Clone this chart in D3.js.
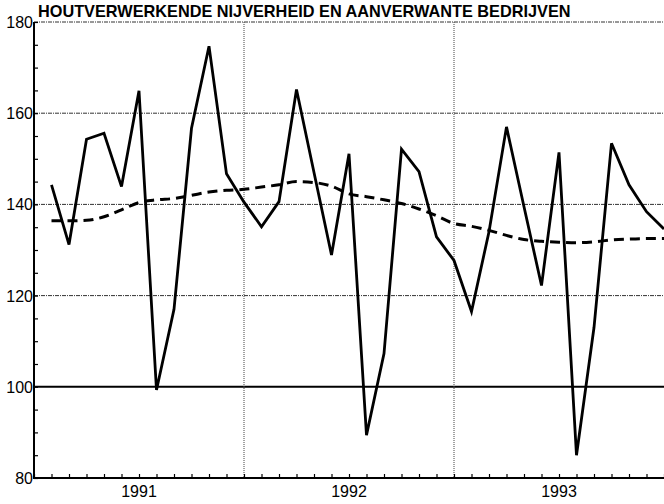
<!DOCTYPE html>
<html>
<head>
<meta charset="utf-8">
<script src="https://cdn.jsdelivr.net/npm/d3@7"></script>
<style>
  html, body { margin: 0; padding: 0; background: #fff; }
  svg { display: block; }
</style>
</head>
<body>
<svg id="chart" width="664" height="504"></svg>
<script>
// ---- data ----
const title = "HOUTVERWERKENDE NIJVERHEID EN AANVERWANTE BEDRIJVEN";
const years = ["1991", "1992", "1993"];
const yTicks = [80, 100, 120, 140, 160, 180];
// monthly index values Jan 1991 .. Dec 1993 (plotted at month end)
const original = [
  144.3, 131.2, 154.3, 155.6, 143.9, 164.9, 99.3, 117.0, 156.7, 174.7, 146.7, 140.5,
  135.1, 140.6, 165.2, 147.0, 128.9, 151.1, 89.4, 107.3, 152.1, 147.2, 132.9, 127.7,
  116.5, 134.0, 157.0, 139.5, 122.2, 151.4, 85.0, 113.0, 153.4, 144.3, 138.4, 134.6
];
const trend = [
  136.4, 136.4, 136.5, 137.3, 138.8, 140.4, 141.0, 141.3, 142.0, 142.7, 143.1, 143.3,
  143.8, 144.3, 145.0, 144.8, 144.0, 142.3, 141.7, 141.0, 140.2, 139.0, 137.5, 135.8,
  135.2, 134.3, 133.2, 132.3, 131.9, 131.7, 131.6, 131.8, 132.2, 132.4, 132.5, 132.5
];

// ---- layout ----
const svg = d3.select("#chart");
const mLeft = 34, mRight = 664, mTop = 22, mBottom = 478;
const x = d3.scaleLinear().domain([0, 36]).range([mLeft, mRight]);
const y = d3.scaleLinear().domain([80, 180]).range([mBottom, mTop]);
const font = "'Liberation Sans', Arial, Helvetica, sans-serif";

// horizontal gridlines
const gridVals = [120, 140, 160, 180];
svg.append("g").selectAll("line").data(gridVals).join("line")
  .attr("x1", mLeft).attr("x2", mRight)
  .attr("y1", d => y(d)).attr("y2", d => y(d))
  .attr("stroke", "#333").attr("stroke-width", 1)
  .attr("stroke-dasharray", "4,1,1,1");

// 100 line
svg.append("line")
  .attr("x1", mLeft).attr("x2", mRight)
  .attr("y1", y(100)).attr("y2", y(100))
  .attr("stroke", "#000").attr("stroke-width", 2);

// vertical year gridlines
svg.append("g").selectAll("line").data([12, 24]).join("line")
  .attr("x1", d => x(d)).attr("x2", d => x(d))
  .attr("y1", mTop).attr("y2", mBottom)
  .attr("stroke", "#444").attr("stroke-width", 1)
  .attr("stroke-dasharray", "1,1");

// y axis
const yAxis = d3.axisRight(y)
  .tickValues(d3.range(80, 181, 5))
  .tickSize(4).tickFormat("");
const gy = svg.append("g").attr("transform", `translate(${mLeft},0)`).call(yAxis);
gy.select(".domain").remove();
gy.selectAll(".tick line").attr("stroke", "#000").attr("stroke-width", 1.2);
svg.append("line").attr("x1", mLeft).attr("x2", mLeft).attr("y1", mTop).attr("y2", mBottom + 1)
  .attr("stroke", "#000").attr("stroke-width", 2);

svg.append("g").selectAll("text").data(yTicks).join("text")
  .attr("x", mLeft - 1).attr("y", d => y(d) + 6)
  .attr("text-anchor", "end")
  .attr("font-family", font).attr("font-size", 16)
  .attr("fill", "#000")
  .text(d => d);

// x axis
const xAxis = d3.axisTop(x).tickValues(d3.range(0, 37, 1)).tickSize(4).tickFormat("");
const gx = svg.append("g").attr("transform", `translate(0,${mBottom})`).call(xAxis);
gx.select(".domain").remove();
gx.selectAll(".tick line").attr("stroke", "#000").attr("stroke-width", 1.2);
svg.append("line").attr("x1", mLeft - 1).attr("x2", mRight).attr("y1", mBottom).attr("y2", mBottom)
  .attr("stroke", "#000").attr("stroke-width", 2);

svg.append("g").selectAll("text").data(years).join("text")
  .attr("x", (d, i) => x(i * 12 + 6)).attr("y", 497)
  .attr("text-anchor", "middle")
  .attr("font-family", font).attr("font-size", 16)
  .attr("fill", "#000")
  .text(d => d);

// title
svg.append("text")
  .attr("x", 38).attr("y", 17)
  .attr("font-family", font).attr("font-size", 16.3).attr("font-weight", "bold")
  .attr("fill", "#000")
  .text(title);

// lines
svg.append("path").datum(trend)
  .attr("d", d3.line().x((d, i) => x(i + 1)).y(d => y(d)).curve(d3.curveMonotoneX))
  .attr("fill", "none").attr("stroke", "#000").attr("stroke-width", 3)
  .attr("stroke-dasharray", "10,6");
svg.append("path").datum(original)
  .attr("d", d3.line().x((d, i) => x(i + 1)).y(d => y(d)))
  .attr("fill", "none").attr("stroke", "#000").attr("stroke-width", 2.8)
  .attr("stroke-linejoin", "miter");
</script>
</body>
</html>
